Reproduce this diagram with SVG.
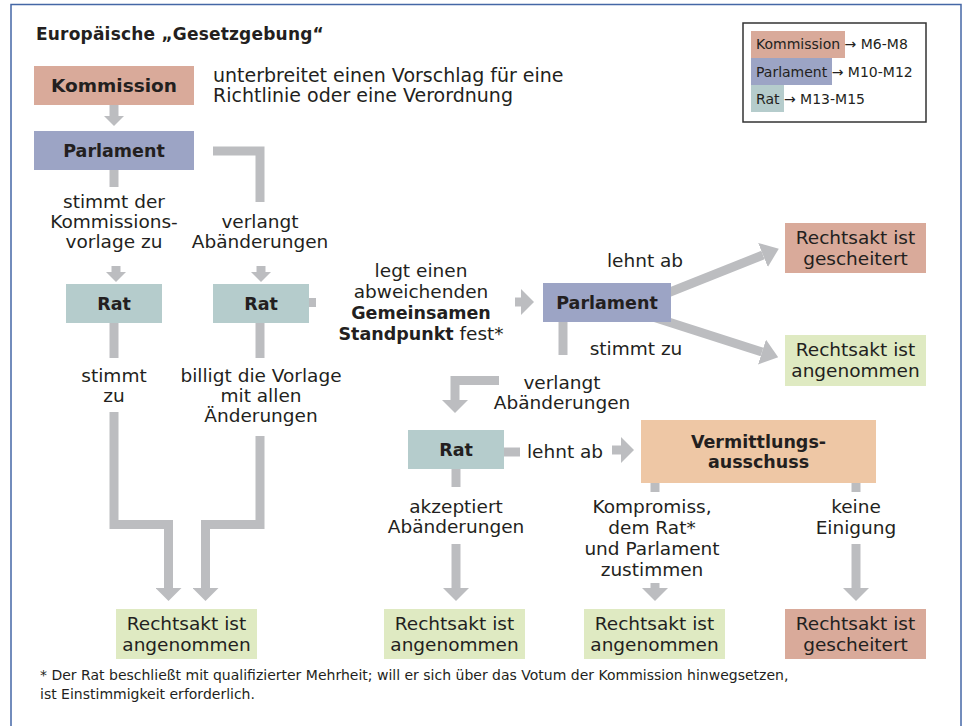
<svg xmlns="http://www.w3.org/2000/svg" width="962" height="726" viewBox="0 0 962 726">
<style>
  text { font-family: "DejaVu Sans", "Liberation Sans", sans-serif; fill: #231f20; }
  .t { font-size: 18.5px; text-anchor: middle; }
  .b { font-size: 17.5px; font-weight: bold; text-anchor: middle; }
  .lg { font-size: 14px; }
  .fn { font-size: 14px; }
  .con { fill: none; stroke: #bcbdc0; stroke-width: 9; stroke-linejoin: miter; stroke-linecap: butt; }
  .kom { fill: #d9aa9a; }
  .par { fill: #9ca4c5; }
  .rat { fill: #b5cccc; }
  .ang { fill: #dfeac2; }
  .ges { fill: #d9aa9a; }
  .ver { fill: #eec7a5; }
</style>
<defs>
  <marker id="ah" markerUnits="userSpaceOnUse" viewBox="0 0 13 26" refX="0" refY="13" markerWidth="13" markerHeight="26" orient="auto">
    <path d="M0,0 L13,13 L0,26 Z" fill="#bcbdc0"/>
  </marker>
  <marker id="ahs" markerUnits="userSpaceOnUse" viewBox="0 0 10 20" refX="0" refY="10" markerWidth="10" markerHeight="20" orient="auto">
    <path d="M0,0 L10,10 L0,20 Z" fill="#bcbdc0"/>
  </marker>
  <marker id="ahd" markerUnits="userSpaceOnUse" viewBox="0 0 17 26" refX="0" refY="13" markerWidth="17" markerHeight="26" orient="auto">
    <path d="M0,0 L17,13 L0,26 Z" fill="#bcbdc0"/>
  </marker>
</defs>
<rect x="0" y="0" width="962" height="726" fill="#ffffff"/>
<rect x="11" y="4.5" width="950" height="740" fill="none" stroke="#4467a6" stroke-width="1.5"/>

<text x="36" y="40" style="font-size:17px;font-weight:bold;letter-spacing:0.2px">Europäische „Gesetzgebung“</text>

<g id="connectors">
  <path class="con" d="M114,105 V116" marker-end="url(#ahs)"/>
  <path class="con" d="M114,170 V187"/>
  <path class="con" d="M213,151 H260 V202"/>
  <path class="con" d="M116,266 V272" marker-end="url(#ahs)"/>
  <path class="con" d="M261,266 V272" marker-end="url(#ahs)"/>
  <path class="con" d="M114,323 V358"/>
  <path class="con" d="M260,323 V358"/>
  <path class="con" d="M114,412 V524.5 H168.5 V588" marker-end="url(#ah)"/>
  <path class="con" d="M260,436 V524.5 H205.5 V588" marker-end="url(#ah)"/>
  <path class="con" d="M309,302.5 H316"/>
  <path class="con" d="M515,302 H521" marker-end="url(#ah)"/>
  <path class="con" d="M640,304 L763,255" marker-end="url(#ahd)"/>
  <path class="con" d="M600,300 L762,352" marker-end="url(#ahd)"/>
  <path class="con" d="M563,322 V355"/>
  <path class="con" d="M499,380.5 H455 V400" marker-end="url(#ah)"/>
  <path class="con" d="M504,452 H520"/>
  <path class="con" d="M612,450 H621" marker-end="url(#ah)"/>
  <path class="con" d="M655,483 V492"/>
  <path class="con" d="M856,483 V492"/>
  <path class="con" d="M655,583 V588" marker-end="url(#ah)"/>
  <path class="con" d="M856,544 V588" marker-end="url(#ah)"/>
  <path class="con" d="M456,469 V487"/>
  <path class="con" d="M456,544 V588" marker-end="url(#ah)"/>
</g>

<g id="kommission">
  <rect class="kom" x="34" y="66" width="160" height="39"/>
  <text class="b" x="114" y="92" style="font-size:18.5px">Kommission</text>
</g>
<g id="intro">
  <text x="213" y="82" style="font-size:19px">unterbreitet einen Vorschlag für eine</text>
  <text x="213" y="102" style="font-size:19px">Richtlinie oder eine Verordnung</text>
</g>
<g id="parlament1">
  <rect class="par" x="34" y="131" width="160" height="39"/>
  <text class="b" x="114" y="157">Parlament</text>
</g>
<g id="rat1">
  <rect class="rat" x="66" y="284" width="96" height="39"/>
  <text class="b" x="114" y="310">Rat</text>
</g>
<g id="rat2">
  <rect class="rat" x="213" y="284" width="96" height="39"/>
  <text class="b" x="261" y="310">Rat</text>
</g>
<g id="parlament2">
  <rect class="par" x="543" y="283" width="128" height="39"/>
  <text class="b" x="607" y="309">Parlament</text>
</g>
<g id="rat3">
  <rect class="rat" x="408" y="430" width="96" height="39"/>
  <text class="b" x="456" y="456">Rat</text>
</g>
<g id="vermittlung">
  <rect class="ver" x="641" y="420" width="235" height="63"/>
  <text class="b" x="758.5" y="448">Vermittlungs-</text>
  <text class="b" x="758.5" y="468">ausschuss</text>
</g>
<g id="gescheitert1">
  <rect class="ges" x="785" y="223" width="141" height="50"/>
  <text class="t" x="855.5" y="244">Rechtsakt ist</text>
  <text class="t" x="855.5" y="265">gescheitert</text>
</g>
<g id="angenommen1">
  <rect class="ang" x="785" y="335" width="141" height="51"/>
  <text class="t" x="855.5" y="356">Rechtsakt ist</text>
  <text class="t" x="855.5" y="377">angenommen</text>
</g>
<g id="angenommen2">
  <rect class="ang" x="116" y="609" width="141" height="50"/>
  <text class="t" x="186.5" y="630">Rechtsakt ist</text>
  <text class="t" x="186.5" y="651">angenommen</text>
</g>
<g id="angenommen3">
  <rect class="ang" x="384" y="609" width="141" height="50"/>
  <text class="t" x="454.5" y="630">Rechtsakt ist</text>
  <text class="t" x="454.5" y="651">angenommen</text>
</g>
<g id="angenommen4">
  <rect class="ang" x="584" y="609" width="141" height="50"/>
  <text class="t" x="654.5" y="630">Rechtsakt ist</text>
  <text class="t" x="654.5" y="651">angenommen</text>
</g>
<g id="gescheitert2">
  <rect class="ges" x="785" y="609" width="141" height="50"/>
  <text class="t" x="855.5" y="630">Rechtsakt ist</text>
  <text class="t" x="855.5" y="651">gescheitert</text>
</g>

<g id="labels">
  <text class="t" x="114" y="208">stimmt der</text>
  <text class="t" x="114" y="228">Kommissions-</text>
  <text class="t" x="114" y="248">vorlage zu</text>
  <text class="t" x="260" y="228">verlangt</text>
  <text class="t" x="260" y="248">Abänderungen</text>
  <text class="t" x="114" y="382">stimmt</text>
  <text class="t" x="114" y="402">zu</text>
  <text class="t" x="261" y="382">billigt die Vorlage</text>
  <text class="t" x="261" y="402">mit allen</text>
  <text class="t" x="261" y="422">Änderungen</text>
  <text class="t" x="421" y="277">legt einen</text>
  <text class="t" x="421" y="298">abweichenden</text>
  <text class="t" x="421" y="319" style="font-weight:bold;font-size:17.5px">Gemeinsamen</text>
  <text class="t" x="421" y="340"><tspan style="font-weight:bold;font-size:17.5px">Standpunkt</tspan> fest*</text>
  <text class="t" x="645" y="267">lehnt ab</text>
  <text class="t" x="636" y="355">stimmt zu</text>
  <text class="t" x="562" y="389">verlangt</text>
  <text class="t" x="562" y="409">Abänderungen</text>
  <text class="t" x="565" y="458">lehnt ab</text>
  <text class="t" x="456" y="513">akzeptiert</text>
  <text class="t" x="456" y="533">Abänderungen</text>
  <text class="t" x="652" y="513">Kompromiss,</text>
  <text class="t" x="652" y="534">dem Rat*</text>
  <text class="t" x="652" y="555">und Parlament</text>
  <text class="t" x="652" y="576">zustimmen</text>
  <text class="t" x="856" y="513">keine</text>
  <text class="t" x="856" y="534">Einigung</text>
</g>

<g id="legend">
  <rect x="743" y="23" width="183" height="99" fill="#ffffff" stroke="#333333" stroke-width="1.5"/>
  <rect class="kom" x="751" y="31" width="94" height="27"/>
  <rect class="par" x="751" y="58" width="81" height="27"/>
  <rect class="rat" x="751" y="85" width="33" height="27"/>
  <text class="lg" x="756" y="49">Kommission → M6-M8</text>
  <text class="lg" x="756" y="77">Parlament → M10-M12</text>
  <text class="lg" x="756" y="104">Rat → M13-M15</text>
</g>

<g id="footnote">
  <text class="fn" x="40" y="680">* Der Rat beschließt mit qualifizierter Mehrheit; will er sich über das Votum der Kommission hinwegsetzen,</text>
  <text class="fn" x="40" y="699">ist Einstimmigkeit erforderlich.</text>
</g>
</svg>
